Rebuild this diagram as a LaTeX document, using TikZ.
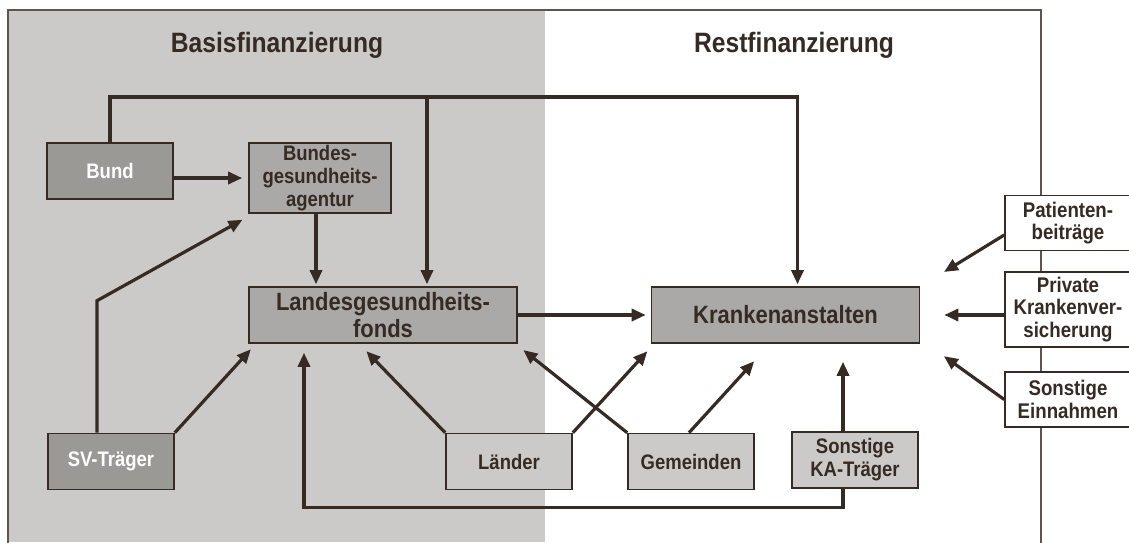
\documentclass[tikz,border=0pt]{standalone}
\usepackage{fontspec}
\setmainfont{Liberation Sans}[FakeStretch=0.88]
\usepackage{tikz}
\usetikzlibrary{arrows.meta, calc, positioning}
\definecolor{baseGray}{HTML}{CBCAC8}
\definecolor{darkFill}{HTML}{9B9996}
\definecolor{midFill}{HTML}{AAA9A7}
\definecolor{lineBrown}{HTML}{352A24}
\definecolor{frameBrown}{HTML}{5E5550}

\begin{document}
\begin{tikzpicture}[
    x=0.5pt, y=-0.5pt,
    box/.style={rectangle, draw=lineBrown, line width=0.8pt, fill=#1, minimum width=63pt, minimum height=28pt, inner sep=1pt, align=center, text=lineBrown, font=\bfseries\fontsize{10.5}{11.5}\selectfont},
    bigbox/.style={box=midFill, minimum width=134pt, font=\bfseries\fontsize{12.5}{13.5}\selectfont},
    sidebox/.style={box=white, minimum height=27.5pt, font=\bfseries\fontsize{10.6}{11.3}\selectfont},
    title/.style={text=lineBrown, font=\bfseries\fontsize{14}{16}\selectfont},
    flow/.style={-{Triangle[length=7pt, width=6pt]}, line width=1.6pt, draw=lineBrown, shorten >=1pt},
    link/.style={line width=1.6pt, draw=lineBrown}
]
\useasboundingbox (0,0) rectangle (1129,542);

% Background areas
\fill[baseGray] (8,10) rectangle (545,542);
\draw[frameBrown, line width=0.7pt] (8,560) -- (8,10) -- (1041,10) -- (1041,560);

% Titles
\node[title] (basis) at (277,45) {Basisfinanzierung};
\node[title] (rest) at (794,45) {Restfinanzierung};

% Sources left
\node[box=darkFill, text=white] (bund) at (110,171) {Bund};
\node[box=midFill, minimum width=71pt, minimum height=35pt] (bga) at (320,178) {Bundes-\\gesundheits-\\agentur};
\node[box=darkFill, text=white] (sv) at (111,461.5) {SV-Träger};

% Funds and hospitals
\node[bigbox] (lgf) at (383,315) {Landesgesundheits-\\fonds};
\node[bigbox] (ka) at (785.5,315) {Krankenanstalten};

% Lower sources
\node[box=baseGray] (laender) at (509,461.5) {Länder};
\node[box=baseGray] (gemeinden) at (691,461.5) {Gemeinden};
\node[box=baseGray] (sonstka) at (855,460) {Sonstige\\KA-Träger};

% Side sources
\node[sidebox] (patienten) at (1068,223) {Patienten-\\beiträge};
\node[sidebox, minimum height=37.5pt] (private) at (1068,309.5) {Private\\Krankenver-\\sicherung};
\node[sidebox] (einnahmen) at (1068,399.5) {Sonstige\\Einnahmen};

% Bund flows
\coordinate (ridge) at (0,97);
\draw[flow] (bund.north) |- ($(ka.north |- ridge)+(12,0)$) -- ($(ka.north)+(12,0)$);
\draw[flow] ($(lgf.north |- ridge)+(44,0)$) -- ($(lgf.north)+(44,0)$);
\draw[flow, shorten >=3pt] (bund.east |- bga) -- (bga);
\draw[flow] ($(bga.south)+(-4,0)$) -- ($(lgf.north)+(-67,0)$);

% SV-Traeger
\draw[flow] ($(sv.north)+(-14,0)$) -- ++(0,-132) -- ($(bga.south west)+(-4,5)$);
\draw[flow] (sv.north east) -- ($(lgf.south west)+(4,4)$);

% Laender and Gemeinden
\draw[flow] (laender.north west) -- ($(lgf.south)+(-18,6)$);
\draw[flow] (gemeinden.north west) -- ($(lgf.south east)+(4,5)$);
\draw[flow] (laender.north east) -- ($(ka.south west)+(-2,6)$);
\draw[flow] ($(gemeinden.north)+(-2,0)$) -- ($(ka.south)+(-30,16)$);
\draw[flow] (lgf) -- ($(ka.west)+(-3,0)$);

% Sonstige KA-Traeger
\draw[flow] ($(sonstka.north)+(-12,0)$) -- ($(ka.south)+(57.5,16)$);
\draw[flow] ($(sonstka.south)+(-12,0)$) |- ($(lgf.south)+(-79,164)$) -- ($(lgf.south)+(-79,7)$);

% Side flows
\draw[flow] ($(patienten.west)+(0,12)$) -- ($(ka.east)+(22,-42)$);
\draw[flow] (private.west |- ka) -- ($(ka.east)+(22,0)$);
\draw[flow] (einnahmen.west) -- ($(ka.east)+(22,40)$);

\end{tikzpicture}
\end{document}
